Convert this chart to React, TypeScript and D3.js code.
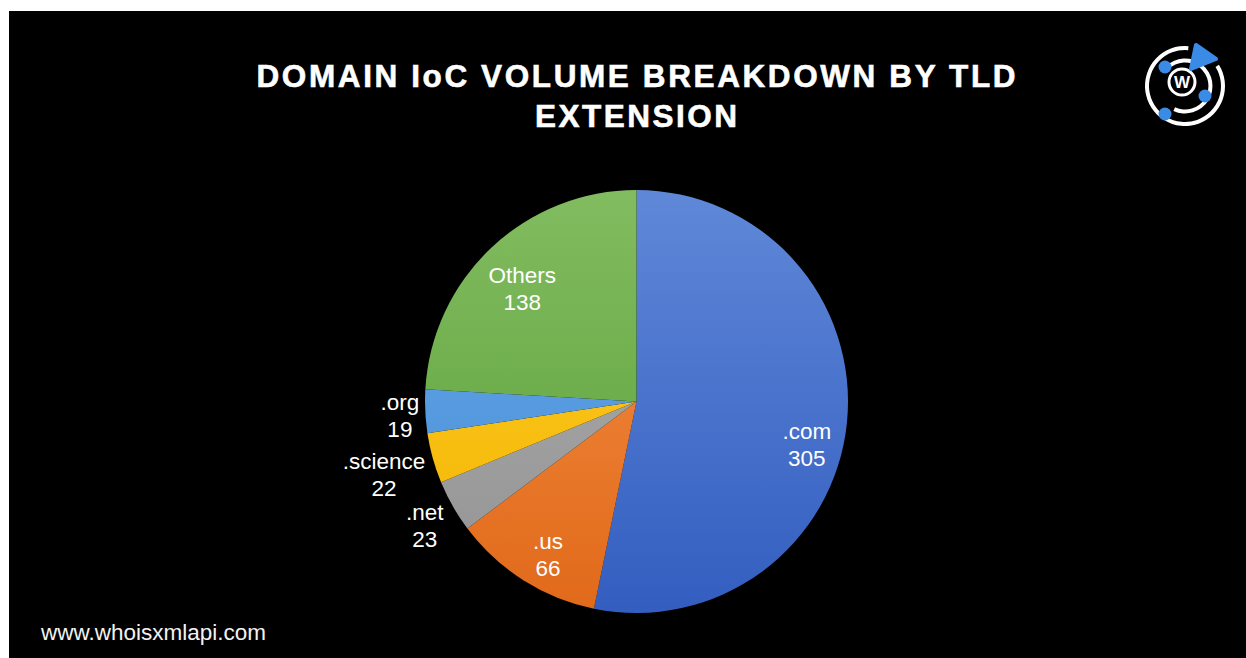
import React, { useEffect, useRef } from "react";
import * as d3 from "d3";

const categories = [".com", ".us", ".net", ".science", ".org", "Others"];
const values = [305, 66, 23, 22, 19, 138];
const titleLines = ["DOMAIN IoC VOLUME BREAKDOWN BY TLD", "EXTENSION"];
const footerText = "www.whoisxmlapi.com";

const colorTop = ["#5f88d8", "#f59247", "#b0b0b0", "#ffce2a", "#68ace9", "#82bc60"];
const colorBottom = ["#335ec0", "#e1691a", "#929292", "#f2b400", "#4689d6", "#5a9f38"];

const W = 1246;
const H = 658;

export default function App() {
  const ref = useRef<SVGSVGElement | null>(null);

  useEffect(() => {
    const svg = d3.select(ref.current);
    svg.selectAll("*").remove();

    svg.append("rect").attr("x", 0).attr("y", 0).attr("width", W).attr("height", H).attr("fill", "#ffffff");
    svg.append("rect").attr("x", 9).attr("y", 11).attr("width", W - 9).attr("height", H - 11).attr("fill", "#000000");

    const font = "'Liberation Sans', Arial, Helvetica, sans-serif";

    // Title
    const titleLens = [759, 202];
    const titleY = [87, 127];
    titleLines.forEach((t, i) => {
      svg
        .append("text")
        .attr("x", 636)
        .attr("y", titleY[i])
        .attr("text-anchor", "middle")
        .attr("fill", "#ffffff")
        .attr("stroke", "#ffffff")
        .attr("stroke-width", 0.6)
        .attr("font-family", font)
        .attr("font-weight", "bold")
        .attr("font-size", 31.5)
        .attr("textLength", titleLens[i])
        .attr("lengthAdjust", "spacing")
        .text(t);
    });

    // Footer
    svg
      .append("text")
      .attr("x", 41)
      .attr("y", 640)
      .attr("fill", "#f2f2f2")
      .attr("font-family", font)
      .attr("font-size", 22.5)
      .text(footerText);

    // Pie
    const cx = 636.5;
    const cy = 401.5;
    const R = 211.5;
    const data = categories.map((c, i) => ({ c, v: values[i], i }));
    const total = d3.sum(values);
    const pie = d3.pie<any>().value((d: any) => d.v).sort(null);
    const arcs = pie(data);
    const arc = d3.arc<any>().innerRadius(0).outerRadius(R);

    const defs = svg.append("defs");
    data.forEach((d) => {
      const g = defs
        .append("linearGradient")
        .attr("id", "grad" + d.i)
        .attr("gradientUnits", "userSpaceOnUse")
        .attr("x1", 0)
        .attr("y1", -R)
        .attr("x2", 0)
        .attr("y2", R);
      g.append("stop").attr("offset", "0%").attr("stop-color", colorTop[d.i]);
      g.append("stop").attr("offset", "100%").attr("stop-color", colorBottom[d.i]);
    });

    const pg = svg.append("g").attr("transform", `translate(${cx},${cy})`);
    pg.selectAll("path")
      .data(arcs)
      .join("path")
      .attr("d", arc as any)
      .attr("fill", (d: any) => `url(#grad${d.data.i})`);

    // Labels
    const fs = 22.5;
    const lh = 27;
    const capH = fs * 0.716;
    const insideShift: Record<string, number> = { ".com": 16 };
    arcs.forEach((a: any) => {
      const frac = a.data.v / total;
      const mid = (a.startAngle + a.endAngle) / 2;
      const ux = Math.sin(mid);
      const uy = -Math.cos(mid);
      const g = pg.append("g");
      const lines = [a.data.c, String(a.data.v)];
      const y0 = -(lh + capH) / 2 + capH;
      lines.forEach((t, k) => {
        g.append("text")
          .attr("x", 0)
          .attr("y", y0 + k * lh)
          .attr("text-anchor", "middle")
          .attr("fill", "#ffffff")
          .attr("font-family", font)
          .attr("font-size", fs)
          .text(t);
      });
      let px: number, py: number;
      if (frac > 0.06) {
        const r = R * 0.8;
        px = ux * r + 2;
        py = uy * r + 10 + (insideShift[a.data.c] || 0);
      } else {
        const bb = (g.node() as SVGGElement).getBBox();
        const w = bb.width;
        const h = lh + capH;
        const ext = Math.abs(ux) * (w / 2) + Math.abs(uy) * (h / 2);
        const r = R + 5 + ext;
        px = ux * r;
        py = uy * r + 3;
      }
      g.attr("transform", `translate(${px},${py})`);
    });

    // Logo
    const lx = 1185;
    const ly = 86;
    const logo = svg.append("g").attr("transform", `translate(${lx},${ly})`);
    const ringArc = d3.arc<any>();
    const deg = Math.PI / 180;
    logo
      .append("path")
      .attr("d", ringArc({ innerRadius: 36, outerRadius: 40, startAngle: 58 * deg, endAngle: 365 * deg, cornerRadius: 2 }) as string)
      .attr("fill", "#ffffff");
    logo
      .append("path")
      .attr("d", ringArc({ innerRadius: 23.5, outerRadius: 27.5, startAngle: -45 * deg, endAngle: 205 * deg, cornerRadius: 2 }) as string)
      .attr("fill", "#ffffff");
    logo.append("circle").attr("cx", -3).attr("cy", -4).attr("r", 13).attr("fill", "none").attr("stroke", "#ffffff").attr("stroke-width", 3);
    logo
      .append("text")
      .attr("x", -3)
      .attr("y", 2)
      .attr("text-anchor", "middle")
      .attr("fill", "#ffffff")
      .attr("font-family", font)
      .attr("font-weight", "bold")
      .attr("font-size", 17)
      .text("W");
    const blue = "#3a8be6";
    [[-20, -19], [20, 10], [-20, 28]].forEach(([x, y]) => {
      logo.append("circle").attr("cx", x).attr("cy", y).attr("r", 6.5).attr("fill", blue);
    });
    logo
      .append("path")
      .attr("d", "M11,-41 L31,-27 L6,-17 Z")
      .attr("fill", blue)
      .attr("stroke", blue)
      .attr("stroke-width", 4)
      .attr("stroke-linejoin", "round");
  }, []);

  return (
    <svg
      ref={ref}
      width={W}
      height={H}
      style={{ position: "absolute", left: 0, top: 0, display: "block" }}
    />
  );
}
